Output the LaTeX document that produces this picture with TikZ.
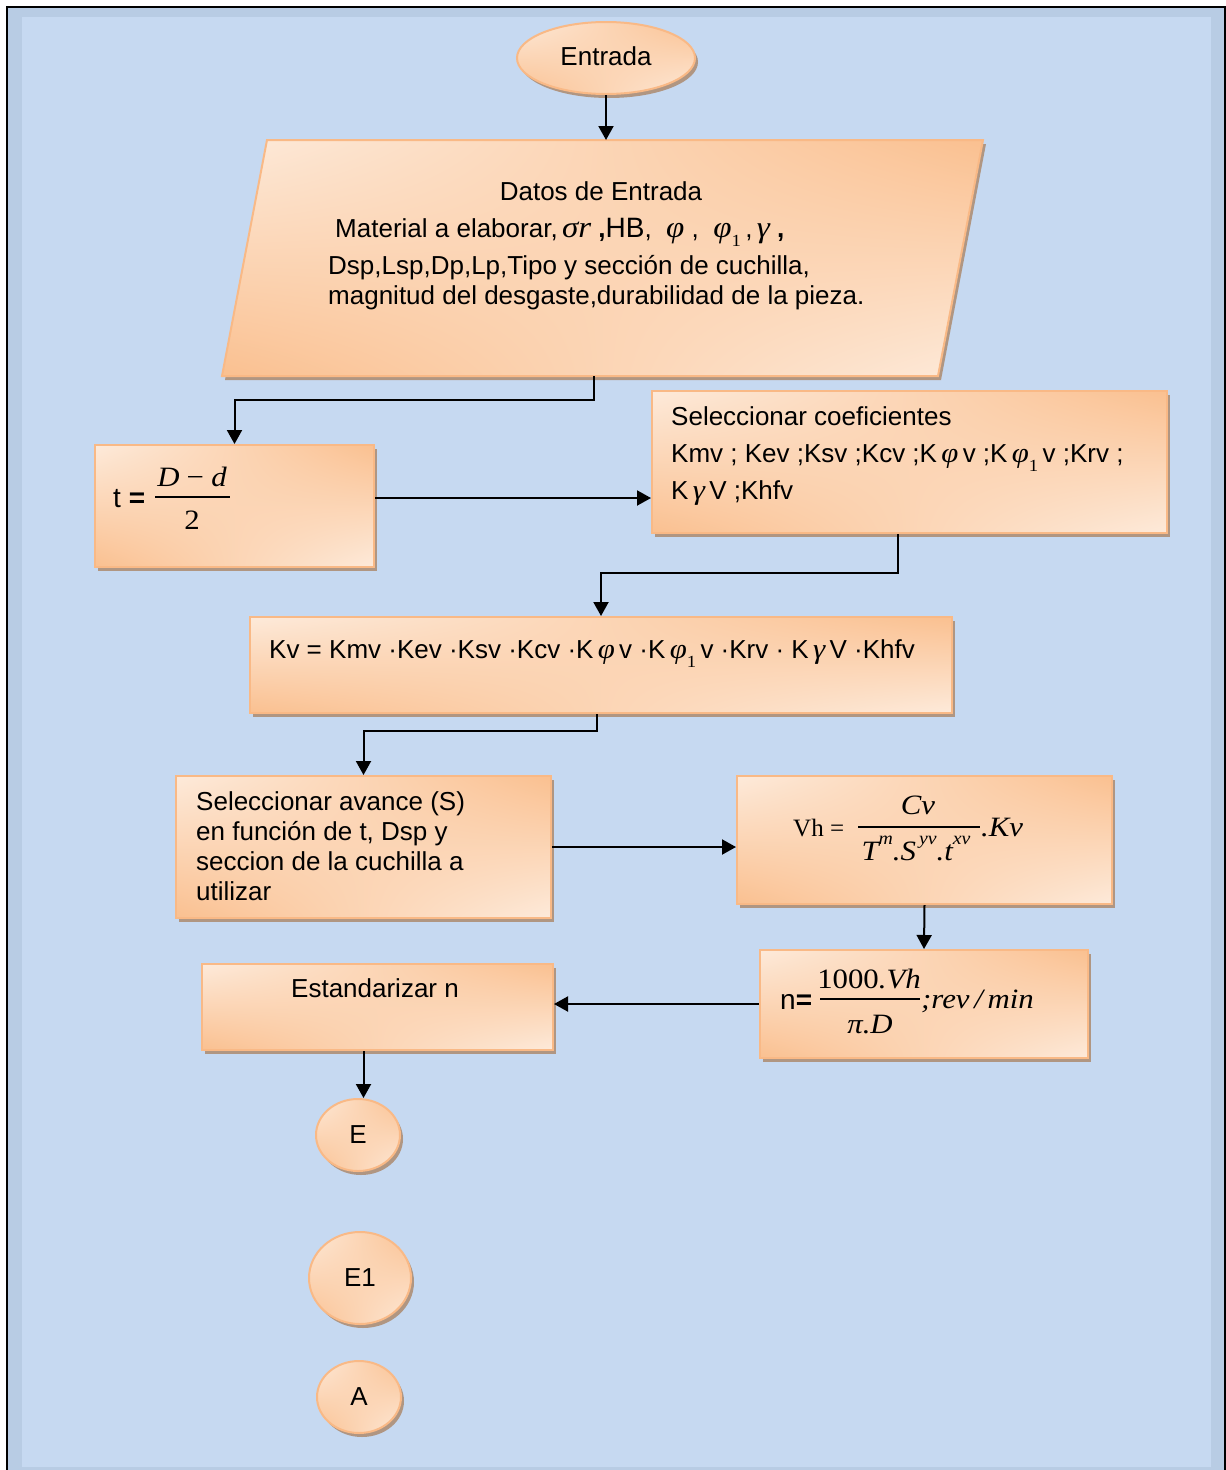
\documentclass[tikz,border=0pt]{standalone}
\usepackage{fontspec}
\setmainfont{Liberation Sans}
\newfontfamily\tnr{Liberation Serif}[FakeStretch=1.1]
\newfontfamily\tnrn{Liberation Serif}
\usetikzlibrary{shapes.geometric,arrows.meta,shadows,shadings}
\definecolor{bandc}{HTML}{B8CCE4}
\definecolor{bgc}{HTML}{C6D9F1}
\definecolor{lightc}{HTML}{FDEADA}
\definecolor{orc}{HTML}{FAC090}
\definecolor{linec}{HTML}{F9B986}
\definecolor{shadc}{HTML}{B09682}
\newcommand\ts{\fontsize{26}{30}\selectfont}
\newcommand\mi[1]{{\tnr\itshape\fontsize{28}{30}\selectfont #1}}
\newcommand\mib[1]{{\tnr\itshape\fontsize{30}{30}\selectfont #1}}
\newcommand\mr[1]{{\tnr\fontsize{28}{30}\selectfont #1}}
\newcommand\sub[1]{\raisebox{-0.35em}{\tnr\fontsize{17}{17}\selectfont #1}}
\newcommand\sups[1]{\raisebox{0.6em}{\tnr\itshape\fontsize{18}{18}\selectfont #1}}
\tikzset{
 fillsh/.style={upper left=lightc, upper right=orc, lower left=orc, lower right=lightc},
 shdw/.style={general shadow={fill=shadc, shadow xshift=3pt, shadow yshift=-4pt}},
 bx/.style={rectangle, draw=linec, line width=2pt, fillsh, shdw, anchor=north west, inner sep=0pt},
 ov/.style={ellipse, draw=linec, line width=2pt, fillsh, shdw, inner sep=0pt, font=\ts},
 txt/.style={font=\ts, inner sep=0pt, anchor=base west},
 ctr/.style={font=\ts, inner sep=0pt, anchor=base},
 arr/.style={line width=2pt, -{Triangle[length=14pt,width=15pt]}},
 fbar/.style={line width=1.3pt},
}
\begin{document}
\begin{tikzpicture}[x=1pt,y=-1pt]
\useasboundingbox (0,0) rectangle (1226,1470);
% frame
\fill[white] (0,0) rectangle (1226,1470);
\fill[bandc] (8,8) rectangle (1224,1475);
\fill[bgc] (22,17) rectangle (1211,1467);
\draw[line width=2pt] (7,1480) -- (7,7) -- (1225,7) -- (1225,1480);

% start
\node[ov, minimum width=178pt, minimum height=72pt, text depth=3pt] (entrada) at (606,58) {Entrada};

% input parallelogram
\coordinate (ptl) at (267,140);
\coordinate (ptr) at (983,140);
\coordinate (pbr) at (938,376);
\coordinate (pbl) at (222,376);
\path[draw=linec, line width=2pt, fillsh, shdw] (ptl) -- (ptr) -- (pbr) -- (pbl) -- cycle;
\coordinate (ptop) at (606,140);
\coordinate (pbot) at (594,376);
\node[ctr] (datos) at (601,200) {Datos de Entrada};
\node[txt] (datos1) at (335,237) {Material a elaborar,\,\mib{σr}\ \textbf{,}{\fontsize{28}{30}\selectfont HB},\ \ \mib{φ}\ ,\ \ \mib{φ}\sub{1}\,,\,\mib{γ}\ \textbf{,}};
\node[txt] (datos2) at (328,274) {Dsp,Lsp,Dp,Lp,Tipo y sección de cuchilla,};
\node[txt] (datos3) at (328,304) {magnitud del desgaste,durabilidad de la pieza.};

% boxes
\node[bx, minimum width=279pt, minimum height=122pt] (tbox) at (94,444) {};
\node[bx, minimum width=515pt, minimum height=142pt] (coef) at (651,390) {};
\node[bx, minimum width=702pt, minimum height=96pt] (kv) at (249,616) {};
\node[bx, minimum width=375pt, minimum height=142pt] (avance) at (175,775) {};
\node[bx, minimum width=375pt, minimum height=128pt] (vh) at (736,775) {};
\node[bx, minimum width=328pt, minimum height=108pt] (nbox) at (759,949) {};
\node[bx, minimum width=351pt, minimum height=86pt] (est) at (201,963) {};

% t box
\node[txt] (tlab) at (113,507) {\fontsize{28}{30}\selectfont t \textbf{=}};
\node[ctr] (tnum) at (192,486) {\mi{D} \mr{−} \mi{d}};
\draw[fbar] (155,497) -- (230,497);
\node[ctr] (tden) at (192,529) {\mr{2}};

% coef
\node[txt] (coef1) at (671,425) {Seleccionar coeficientes};
\node[txt] (coef2) at (671,462) {Kmv ; Kev ;Ksv ;Kcv ;K\,\mi{φ}\,v ;K\,\mi{φ}\sub{1}\,v ;Krv ;};
\node[txt] (coef3) at (671,499) {K\,\mi{γ}\,V ;Khfv};

% kv
\node[txt] (kvt) at (269,658) {Kv = Kmv ·Kev ·Ksv ·Kcv ·K\,\mi{φ}\,v ·K\,\mi{φ}\sub{1}\,v ·Krv · K\,\mi{γ}\,V ·Khfv};

% avance
\node[txt] (av1) at (196,810) {Seleccionar avance (S)};
\node[txt] (av2) at (196,840) {en función de t, Dsp y};
\node[txt] (av3) at (196,870) {seccion de la cuchilla a};
\node[txt] (av4) at (196,900) {utilizar};

% vh
\node[txt] (vhl) at (793,836) {{\tnrn\fontsize{25}{30}\selectfont Vh =}};
\node[ctr] (vhn) at (918,814) {\mi{Cv}};
\draw[fbar] (858,827) -- (980,827);
\node[ctr] (vhd) at (916,860) {\mi{T}\sups{m}\mi{.S}\sups{\,yv}\mi{.t}\sups{xv}};
\node[txt] (vhk) at (981,836) {\mi{.Kv}};

% n
\node[txt] (nl) at (780,1009) {\fontsize{28}{30}\selectfont n\textbf{=}};
\node[ctr] (nn) at (869,988) {\mr{1000}\mi{.Vh}};
\draw[fbar] (820,999) -- (920,999);
\node[ctr] (nd) at (870,1033) {\mi{π.D}};
\node[txt] (nu) at (921,1008) {\mi{;rev\,/\,min}};

% estandarizar
\node[ctr] (estt) at (375,997) {Estandarizar n};

% connectors (circles)
\node[ov, minimum width=84pt, minimum height=72pt] (E) at (358,1135) {E};
\node[ov, minimum width=102pt, minimum height=92pt] (E1) at (360,1278) {E1};
\node[ov, minimum width=84pt, minimum height=72pt] (A) at (359,1397) {A};

% arrows
\draw[arr] (entrada.south) -- (ptop);
\draw[arr] (pbot) -- ++(0,24) -| (tbox.north);
\draw[arr] ([yshift=8pt]tbox.east) -- ([yshift=8pt]tbox.east -| coef.west);
\draw[arr] ([xshift=-12pt]coef.south) -- ++(0,39) -| (kv.north);
\draw[arr] ([xshift=-4pt]kv.south) -- ++(0,17) -| (avance.north);
\draw[arr] (avance.east) -- (avance.east -| vh.west);
\draw[arr] (vh.south) -- (nbox.north);
\draw[arr] (nbox.west) -- (nbox.west -| est.east);
\draw[arr] ([xshift=-14pt]est.south) -- ([xshift=-14pt]est.south |- E.north);
\end{tikzpicture}
\end{document}
